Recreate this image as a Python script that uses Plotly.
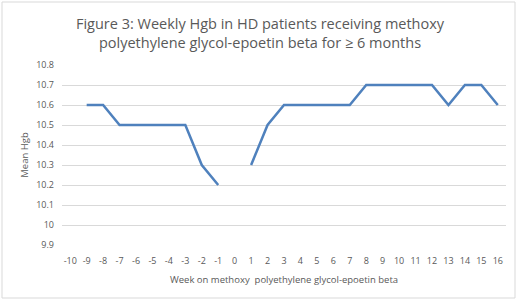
import plotly.graph_objects as go

weeks = list(range(-10, 17))
hgb = [None, 10.6, 10.6, 10.5, 10.5, 10.5, 10.5, 10.5, 10.3, 10.2, None,
       10.3, 10.5, 10.6, 10.6, 10.6, 10.6, 10.6, 10.7, 10.7, 10.7, 10.7, 10.7,
       10.6, 10.7, 10.7, 10.6]
y_ticks = [9.9, 10.0, 10.1, 10.2, 10.3, 10.4, 10.5, 10.6, 10.7, 10.8]
y_labels = ["9.9", "10", "10.1", "10.2", "10.3", "10.4", "10.5", "10.6", "10.7", "10.8"]

W, H = 520, 301
L, R, T, B = 62, 14, 65, 56
pw, ph = W - L - R, H - T - B

def px(x):
    return (x - L) / pw

def py(y):
    return (H - B - y) / ph

font = "Open Sans"
gray = "#595959"

fig = go.Figure()
fig.add_trace(go.Scatter(x=weeks, y=hgb, mode="lines",
                         line=dict(color="#4f81bd", width=2.5),
                         connectgaps=False, hoverinfo="skip"))

fig.update_layout(
    width=W, height=H,
    margin=dict(l=L, r=R, t=T, b=B, autoexpand=False),
    paper_bgcolor="white", plot_bgcolor="white",
    showlegend=False,
    font=dict(family=font, color=gray, size=9),
    title=dict(text="Figure 3: Weekly Hgb in HD patients receiving methoxy<br>polyethylene glycol-epoetin beta for ≥ 6 months",
               x=0.5, xanchor="center", y=1 - 29 / H, yanchor="middle",
               font=dict(family=font, size=14.5, color=gray)),
    xaxis=dict(range=[-10.5, 16.5], tickmode="array", tickvals=weeks,
               ticktext=[str(w) for w in weeks], showgrid=False,
               zeroline=False, showline=False, ticks="",
               tickfont=dict(size=9, color=gray), ticklabelstandoff=9,
               title=dict(text="Week on methoxy  polyethylene glycol-epoetin beta",
                          font=dict(size=9.5, color=gray), standoff=10),
               fixedrange=True),
    yaxis=dict(range=[9.9, 10.8], tickmode="array", tickvals=y_ticks,
               ticktext=y_labels, showgrid=True, gridcolor="#d9d9d9",
               gridwidth=1, zeroline=False, showline=False, ticks="",
               tickfont=dict(size=9, color=gray), ticklabelstandoff=7,
               title=dict(text="Mean Hgb", font=dict(size=9.5, color=gray),
                          standoff=5),
               fixedrange=True),
)

fig.add_shape(type="rect", xref="paper", yref="paper",
              x0=px(2), x1=px(515), y0=py(298), y1=py(2),
              line=dict(color="#d9d9d9", width=1), fillcolor="rgba(0,0,0,0)",
              layer="below")

fig.write_html("out.html", config={"displayModeBar": False},
               post_script="document.body.style.margin='0';")
